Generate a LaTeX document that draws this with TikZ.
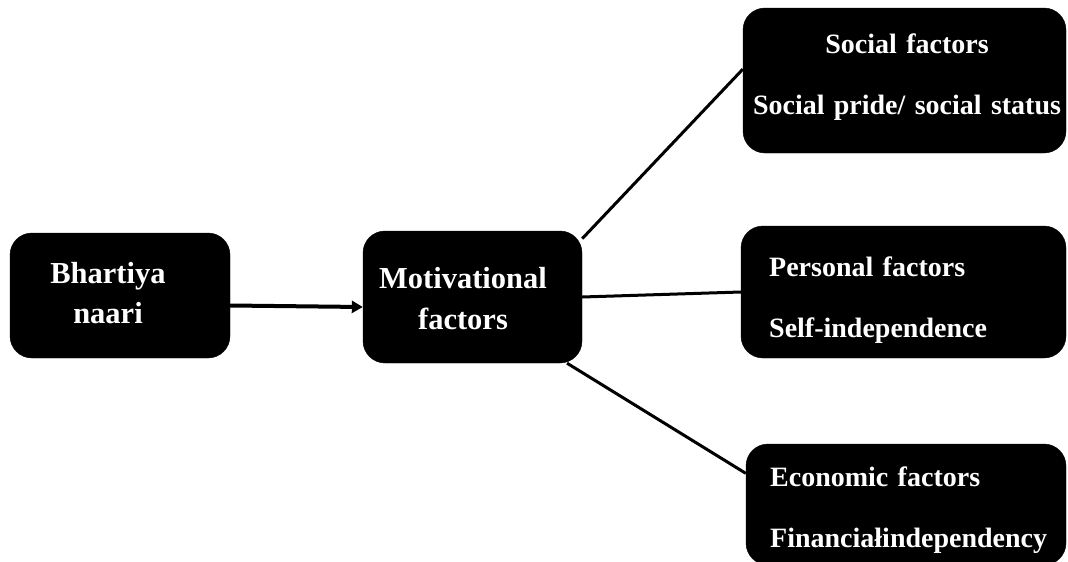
\documentclass[tikz,border=0pt]{standalone}
\usepackage{fontspec}
\setmainfont{Liberation Serif}
\usetikzlibrary{arrows.meta}

\tikzset{
	factorbox/.style={fill=black, draw=black, rounded corners=22pt, inner sep=0pt},
	boxtext/.style 2 args={text=white, inner sep=0pt, font=\bfseries\fontsize{#1}{#2}\selectfont},
	link/.style={line width=3pt},
}

\begin{document}
\begin{tikzpicture}[x=1pt,y=-1pt]
		\useasboundingbox (0,0) rectangle (1068,562);
		\def\rightw{320pt}	% width of the three boxes on the right
		% boxes
			\node [factorbox, minimum width=220pt, minimum height=125pt] (naari) at (120,295.5) {};
			\node [factorbox, minimum width=219pt, minimum height=132pt] (motiv) at (472.5,297) {};
			\node [factorbox, minimum width=323pt, minimum height=145pt] (social) at (904.5,80.5) {};
			\node [factorbox, minimum width=325pt, minimum height=132pt] (personal) at (903.5,292) {};
			\node [factorbox, minimum width=\rightw, minimum height=121pt] (econ) at (906,504.5) {};
		% texts
			\node [boxtext={30.5}{40}, text width=160pt, align=center, anchor=base] (naaritext) at (108,283) {Bhartiya\\naari};
			\node [boxtext={30.5}{41}, text width=200pt, align=center, anchor=base] (motivtext) at (463,288) {Motivational\\factors};
			\node [boxtext={28}{61}, text width=360pt, align=center, anchor=base] (socialtext) at (907,53) {Social factors\\Social pride/ social status};
			\node [boxtext={28}{61}, text width=280pt, align=left, anchor=base west] (personaltext) at (769,276) {Personal factors\\Self-independence};
			\node [boxtext={28}{61}, text width=290pt, align=left, anchor=base west] (econtext) at (770,486) {Economic factors\\Financiałindependency};
		% arrow and links
			\draw [line width=4pt, -{Triangle[length=11pt,width=12pt]}] ([yshift=-10pt]naari.east) -- ([yshift=-10pt]motiv.west);
			\draw [link] (motiv.28) -- (social.176);
			\draw [link] (motiv.east) -- (personal.west);
			\draw [link] (motiv.-35) -- (econ.169);
	\end{tikzpicture}
\end{document}
